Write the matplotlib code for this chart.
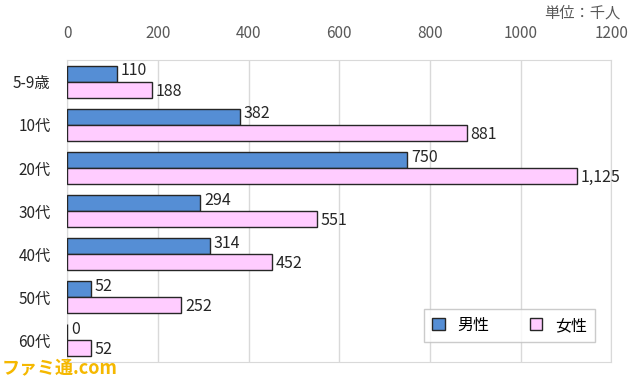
import numpy as np
import matplotlib
matplotlib.use('Agg')
import matplotlib.pyplot as plt

plt.rcParams['font.family'] = ['Noto Sans CJK JP', 'DejaVu Sans']

categories = ['5-9歳', '10代', '20代', '30代', '40代', '50代', '60代']
male = [110, 382, 750, 294, 314, 52, 0]
female = [188, 881, 1125, 551, 452, 252, 52]
male_labels = ['110', '382', '750', '294', '314', '52', '0']
female_labels = ['188', '881', '1,125', '551', '452', '252', '52']

fig = plt.figure(figsize=(6.4, 3.77), dpi=100)
ax = fig.add_axes([0.105, 0.04, 0.85, 0.80])

y = np.arange(len(categories))
h = 0.37
ax.barh(y - h / 2, male, height=h, color='#558ED5', edgecolor='#262626', linewidth=1.0, label='男性', zorder=3)
ax.barh(y + h / 2, female, height=h, color='#FFCCFF', edgecolor='#262626', linewidth=1.0, label='女性', zorder=3)

for i in range(len(categories)):
    ax.text(male[i] + 8, y[i] - h / 2 - 0.07, male_labels[i], va='center', ha='left', fontsize=11.5, color='#262626')
    ax.text(female[i] + 8, y[i] + h / 2 + 0.03, female_labels[i], va='center', ha='left', fontsize=11.5, color='#262626')

ax.set_xlim(0, 1200)
ax.set_ylim(6.5, -0.5)
ax.set_xticks([0, 200, 400, 600, 800, 1000, 1200])
ax.xaxis.tick_top()
ax.tick_params(axis='x', length=0, labelsize=11, labelcolor='#595959', pad=13)
ax.set_yticks(y)
ax.set_yticklabels(categories)
ax.tick_params(axis='y', length=0, labelsize=11, labelcolor='#262626', pad=12)
ax.grid(axis='x', color='#D9D9D9', linewidth=1, zorder=0)
for s in ax.spines.values():
    s.set_color('#D9D9D9')

leg = ax.legend(loc='lower right', ncol=2, fontsize=11.5, frameon=True, fancybox=False,
                edgecolor='#BFBFBF', handlelength=0.8, handleheight=0.8, columnspacing=2.5,
                borderpad=0.5, bbox_to_anchor=(0.985, 0.04))
leg.get_frame().set_linewidth(1)

fig.text(0.97, 0.965, '単位：千人', ha='right', va='center', fontsize=11, color='#595959')
fig.text(0.003, 0.0, 'ファミ通.com', ha='left', va='bottom', fontsize=13, fontweight='bold', color='#F5B800')

fig.savefig('out.png', dpi=100)
